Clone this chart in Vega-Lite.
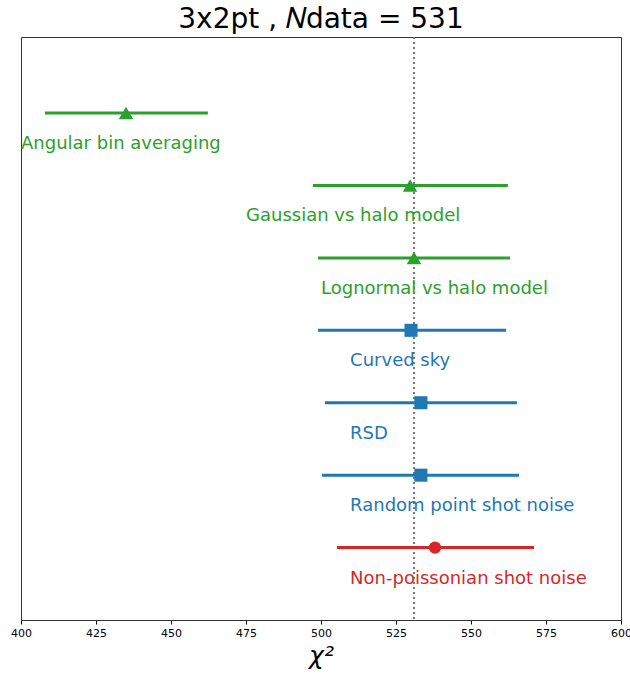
{
  "$schema": "https://vega.github.io/schema/vega-lite/v6.json",
  "autosize": "none",
  "width": 600,
  "height": 583,
  "padding": {"left": 21, "top": 37, "right": 9, "bottom": 56},
  "title": {"text": "3x2pt , 𝑁data = 531", "font": "DejaVu Sans", "fontSize": 28, "fontWeight": "normal", "color": "#000000", "offset": 2},
  "config": {
    "font": "DejaVu Sans",
    "view": {"stroke": "#333333", "strokeWidth": 1}
  },
  "data": {"values": [
    {"pos": 1, "label": "Angular bin averaging", "center": 435, "low": 408, "high": 462.3, "label_x": 400, "group": "sys", "shape": "triangle-up"},
    {"pos": 2, "label": "Gaussian vs halo model", "center": 529.7, "low": 497.3, "high": 562.3, "label_x": 475, "group": "sys", "shape": "triangle-up"},
    {"pos": 3, "label": "Lognormal vs halo model", "center": 531, "low": 499, "high": 563, "label_x": 500, "group": "sys", "shape": "triangle-up"},
    {"pos": 4, "label": "Curved sky", "center": 530, "low": 499, "high": 561.7, "label_x": 509.7, "group": "geo", "shape": "square"},
    {"pos": 5, "label": "RSD", "center": 533.3, "low": 501.3, "high": 565.3, "label_x": 509.7, "group": "geo", "shape": "square"},
    {"pos": 6, "label": "Random point shot noise", "center": 533.3, "low": 500.3, "high": 566, "label_x": 509.7, "group": "geo", "shape": "square"},
    {"pos": 7, "label": "Non-poissonian shot noise", "center": 538, "low": 505.3, "high": 571, "label_x": 509.7, "group": "noise", "shape": "circle"}
  ]},
  "encoding": {
    "y": {"field": "pos", "type": "quantitative", "scale": {"domain": [-0.05, 8], "reverse": true, "nice": false, "zero": false}, "axis": null},
    "color": {"field": "group", "type": "nominal", "scale": {"domain": ["sys", "geo", "noise"], "range": ["#2ca02c", "#1f77b4", "#d62728"]}, "legend": null}
  },
  "layer": [
    {
      "data": {"values": [{"ref": 531}]},
      "mark": {"type": "rule", "color": "#777777", "strokeDash": [2, 3], "strokeWidth": 2},
      "encoding": {"x": {"field": "ref", "type": "quantitative"}, "y": null, "color": null}
    },
    {
      "mark": {"type": "rule", "strokeWidth": 3},
      "encoding": {
        "x": {"field": "low", "type": "quantitative", "scale": {"domain": [400, 600], "nice": false, "zero": false},
          "axis": {"title": "χ²", "titleFont": "DejaVu Sans", "titleFontSize": 25, "titleFontWeight": "normal", "titleFontStyle": "italic", "titleColor": "#000000", "titlePadding": 5,
            "values": [400, 425, 450, 475, 500, 525, 550, 575, 600], "labelFontSize": 11, "labelColor": "#000000", "labelFont": "DejaVu Sans", "grid": false, "tickColor": "#000000", "domainColor": "#333333", "tickSize": 4, "labelPadding": 3, "labelFlush": false}},
        "x2": {"field": "high"}
      }
    },
    {
      "transform": [{"filter": "datum.shape == 'triangle-up'"}],
      "mark": {"type": "point", "filled": true, "opacity": 1, "size": 210, "shape": "triangle-up"},
      "encoding": {
        "x": {"field": "center", "type": "quantitative"}
      }
    },
    {
      "transform": [{"filter": "datum.shape == 'square'"}],
      "mark": {"type": "point", "filled": true, "opacity": 1, "size": 170, "shape": "square"},
      "encoding": {
        "x": {"field": "center", "type": "quantitative"}
      }
    },
    {
      "transform": [{"filter": "datum.shape == 'circle'"}],
      "mark": {"type": "point", "filled": true, "opacity": 1, "size": 150, "shape": "circle"},
      "encoding": {
        "x": {"field": "center", "type": "quantitative"}
      }
    },
    {
      "mark": {"type": "text", "align": "left", "baseline": "middle", "dy": 31, "fontSize": 18, "font": "DejaVu Sans"},
      "encoding": {
        "x": {"field": "label_x", "type": "quantitative"},
        "text": {"field": "label", "type": "nominal"}
      }
    }
  ]
}
